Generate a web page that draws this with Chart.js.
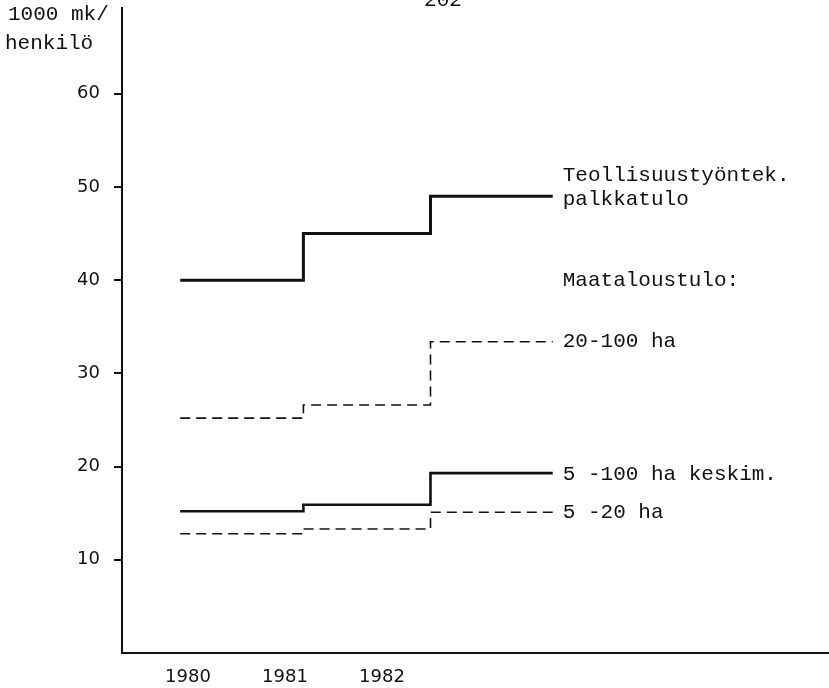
<!DOCTYPE html>
<html>
<head>
<meta charset="utf-8">
<script src="https://cdn.jsdelivr.net/npm/chart.js@4.4.1/dist/chart.umd.min.js"></script>
<style>
    html, body { margin: 0; padding: 0; background: #fff; }
    #wrap { width: 829px; height: 688px; position: relative; }
</style>
</head>
<body>
<div id="wrap"><canvas id="income-chart"></canvas></div>
<script>
// Year tick labels on the x axis
const yearTicks = [1980, 1981, 1982];
// Value ticks on the y axis (1000 mk / henkilö)
const valueTicks = [10, 20, 30, 40, 50, 60];

// Step edges (in years): start of 1980 level, change to 1981, change to 1982, end
const stepEdges = [1979.92, 1981.19, 1982.50, 1983.76];

// Levels per year, 1980-1982
const palkkatulo = [40.0, 45.0, 49.0];
const maatalous20to100 = [25.2, 26.6, 33.4];
const maatalous5to100 = [15.2, 15.9, 19.3];
const maatalous5to20 = [12.8, 13.3, 15.1];

const monoFont = '"Liberation Mono", "DejaVu Sans Mono", monospace';
const sansFont = '"DejaVu Sans", Verdana, sans-serif';

// Turn yearly levels into stepped points
function stepPoints(levels) {
    const pts = levels.map((v, i) => ({ x: stepEdges[i], y: v }));
    pts.push({ x: stepEdges[stepEdges.length - 1], y: levels[levels.length - 1] });
    return pts;
}

function stepDataset(label, levels, width, dash) {
    return {
        label: label,
        data: stepPoints(levels),
        stepped: true,
        borderColor: '#111',
        borderWidth: width,
        borderDash: dash,
        pointRadius: 0,
        fill: false
    };
}

// Texts at the end of each line, plus axis title and page number
const textPlugin = {
    id: 'texts',
    afterDraw(chart) {
        const ctx = chart.ctx;
        const x = chart.scales.x;
        const y = chart.scales.y;
        const endX = x.getPixelForValue(stepEdges[stepEdges.length - 1]) + 10;
        const last = arr => y.getPixelForValue(arr[arr.length - 1]);

        ctx.save();
        ctx.fillStyle = '#111';
        ctx.font = '21px ' + monoFont;
        ctx.textBaseline = 'middle';
        ctx.textAlign = 'left';

        ctx.fillText('Teollisuustyöntek.', endX, last(palkkatulo) - 21);
        ctx.fillText('palkkatulo', endX, last(palkkatulo) + 3);
        ctx.fillText('Maataloustulo:', endX, y.getPixelForValue(40));
        ctx.fillText('20-100 ha', endX, last(maatalous20to100));
        ctx.fillText('5 -100 ha keskim.', endX, last(maatalous5to100) + 1);
        ctx.fillText('5 -20 ha', endX, last(maatalous5to20));

        // axis unit, top left
        ctx.fillText('1000 mk/', 8, 14);
        ctx.fillText('henkilö', 5, 43);

        // page number, cut off at the top edge
        ctx.textAlign = 'center';
        ctx.fillText('202', 443, 0);
        ctx.restore();
    }
};

function initChart() {
    const ctx = document.getElementById('income-chart').getContext('2d');

    new Chart(ctx, {
        type: 'line',
        data: {
            datasets: [
                stepDataset('Teollisuustyöntek. palkkatulo', palkkatulo, 3, []),
                stepDataset('20-100 ha', maatalous20to100, 1.6, [10, 6]),
                stepDataset('5 -100 ha keskim.', maatalous5to100, 2.6, []),
                stepDataset('5 -20 ha', maatalous5to20, 1.6, [10, 6])
            ]
        },
        options: {
            responsive: true,
            maintainAspectRatio: false,
            animation: false,
            layout: { padding: { top: 8, right: 0, left: 0, bottom: 0 } },
            plugins: {
                legend: { display: false },
                tooltip: { enabled: false },
                title: { display: false }
            },
            scales: {
                x: {
                    type: 'linear',
                    min: 1979.32,
                    max: 1986.608,
                    afterBuildTicks: scale => {
                        scale.ticks = yearTicks.map(v => ({ value: v }));
                    },
                    afterFit: scale => {
                        scale.height = 35;
                        scale.paddingLeft = 0;
                        scale.paddingRight = 0;
                    },
                    grid: { display: true, drawOnChartArea: false, drawTicks: false },
                    border: { display: true, color: '#111', width: 2 },
                    ticks: {
                        color: '#111',
                        padding: 14,
                        maxRotation: 0,
                        font: { family: sansFont, size: 18 },
                        callback: v => String(v)
                    }
                },
                y: {
                    type: 'linear',
                    min: 0,
                    max: 69.2,
                    afterBuildTicks: scale => {
                        scale.ticks = valueTicks.map(v => ({ value: v }));
                    },
                    afterFit: scale => {
                        scale.width = 122;
                        scale.paddingTop = 0;
                        scale.paddingBottom = 0;
                    },
                    grid: {
                        display: true,
                        drawOnChartArea: false,
                        drawTicks: true,
                        tickLength: 8,
                        color: '#111',
                        lineWidth: 2
                    },
                    border: { display: true, color: '#111', width: 2 },
                    ticks: {
                        color: '#111',
                        padding: 14,
                        font: { family: sansFont, size: 18 }
                    }
                }
            }
        },
        plugins: [textPlugin]
    });
}

initChart();
</script>
</body>
</html>
